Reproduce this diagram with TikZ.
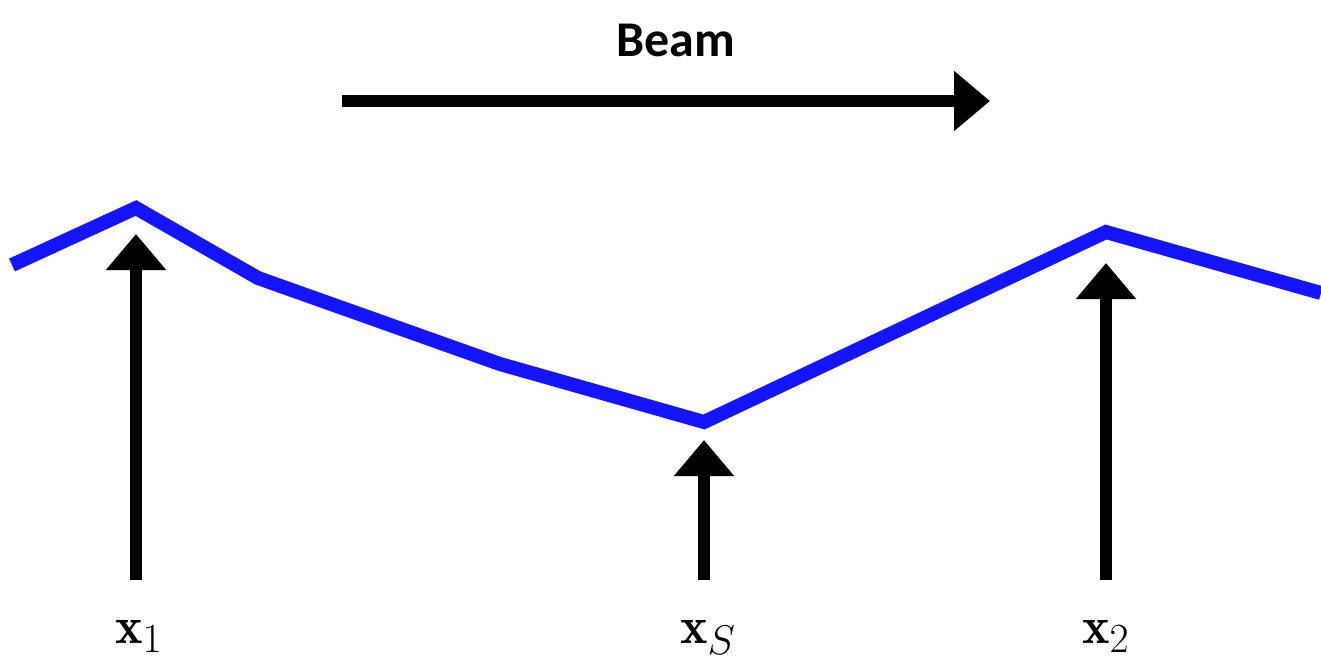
\documentclass[tikz,border=0pt]{standalone}
\usepackage{fontspec}
\newfontfamily\beamfont{Carlito}
\usepackage{tikz}
\usetikzlibrary{arrows.meta}
\DeclareMathSizes{26}{26}{20}{16}
\definecolor{profileblue}{HTML}{1414FF}
\definecolor{markblack}{HTML}{000000}
\tikzset{
  beamarrow/.style={markblack, line width=6pt, -{Triangle[length=18pt,width=29pt]}},
  profile/.style={profileblue, line width=7pt},
  poslabel/.style={font=\fontsize{26}{30}\selectfont, inner sep=0pt, anchor=base},
  beamlabel/.style={font=\beamfont\bfseries\fontsize{25}{30}\selectfont, inner sep=0pt}
}

\begin{document}
\begin{tikzpicture}[x=0.5pt, y=-0.5pt]
  \useasboundingbox (0,0) rectangle (1321,670);
  % beam direction
  \node[beamlabel] (beam) at (676,40) {Beam};
  \coordinate (beamstart) at (342,101);
  \coordinate (beamend) at (990,101);
  \draw[beamarrow] (beamstart) -- (beamend);
  % surface profile
  \coordinate (p0) at (12,265);
  \coordinate (p1) at (136,208);
  \coordinate (p2) at (258,278);
  \coordinate (p3) at (500,364);
  \coordinate (p4) at (704,422);
  \coordinate (p5) at (1106,232);
  \coordinate (p6) at (1321,293);
  \draw[profile] (p0) -- (p1) -- (p2) -- (p3) -- (p4) -- (p5) -- (p6);
  % position markers
  \foreach \name/\xpos/\ytip/\xlab/\sub in {one/136/234/139/1, s/704/440/708/S, two/1106/263/1106/2}{
    \coordinate (base\name) at (\xpos,580);
    \coordinate (tip\name) at (\xpos,\ytip);
    \draw[beamarrow] (base\name) -- (tip\name);
    \node[poslabel] (label\name) at (\xlab,643) {$\mathbf{x}_{\sub}$};
  }
\end{tikzpicture}
\end{document}
